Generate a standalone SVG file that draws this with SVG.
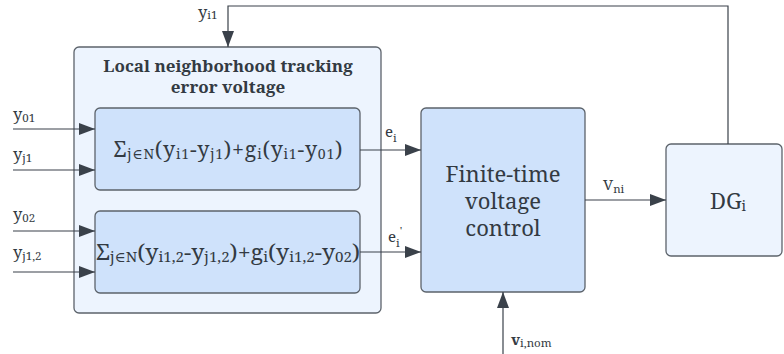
<svg xmlns="http://www.w3.org/2000/svg" width="784" height="354" viewBox="0 0 784 354">
  <defs>
    <marker id="arrowL" viewBox="0 0 16 12" refX="16" refY="6" markerWidth="16" markerHeight="12" markerUnits="userSpaceOnUse" orient="auto">
      <path d="M0,0 L16,6 L0,12 z" fill="#3a414a"/>
    </marker>
  </defs>
  <style>
    .outer { fill: #edf4fe; stroke: #5c636b; stroke-width: 1.3; }
    .inner { fill: #cfe2fb; stroke: #5c636b; stroke-width: 1.3; }
    .ctrl  { fill: #cfe2fb; stroke: #5c636b; stroke-width: 1.3; }
    .dg    { fill: #edf4fe; stroke: #5c636b; stroke-width: 1.3; }
    .wire  { fill: none; stroke: #3a414a; stroke-width: 1.2; }
    text { font-family: "Noto Serif", "DejaVu Serif", "Liberation Serif", serif; fill: #333a42; }
    .title { font-weight: bold; font-size: 17px; text-anchor: middle; }
    .formula { font-size: 21.5px; text-anchor: middle; }
    .big { font-size: 22px; text-anchor: middle; }
    .lbl { font-size: 16.5px; }
    .lbs { font-size: 15px; }
    .sub { font-size: 11.5px; }
    .fsub { font-size: 14px; }
  </style>

  <!-- tracking error block -->
  <g id="tracking-error">
    <rect class="outer" x="74" y="47" width="307" height="266" rx="5"/>
    <text class="title" x="228" y="72">Local neighborhood tracking<tspan x="228" dy="21">error voltage</tspan></text>
  </g>

  <g id="error-1">
    <rect class="inner" x="95" y="108" width="265" height="82" rx="5"/>
    <text class="formula" x="228" y="157" textLength="229" lengthAdjust="spacing">Σ<tspan class="fsub" dy="2">j∈N</tspan><tspan dy="-2">(y</tspan><tspan class="fsub" dy="2">i1</tspan><tspan dy="-2">-y</tspan><tspan class="fsub" dy="2">j1</tspan><tspan dy="-2">)+g</tspan><tspan class="fsub" dy="2">i</tspan><tspan dy="-2">(y</tspan><tspan class="fsub" dy="2">i1</tspan><tspan dy="-2">-y</tspan><tspan class="fsub" dy="2">01</tspan><tspan dy="-2">)</tspan></text>
  </g>

  <g id="error-2">
    <rect class="inner" x="95" y="211" width="265" height="82" rx="5"/>
    <text class="formula" x="228" y="260" textLength="264" lengthAdjust="spacingAndGlyphs">Σ<tspan class="fsub" dy="2">j∈N</tspan><tspan dy="-2">(y</tspan><tspan class="fsub" dy="2">i1,2</tspan><tspan dy="-2">-y</tspan><tspan class="fsub" dy="2">j1,2</tspan><tspan dy="-2">)+g</tspan><tspan class="fsub" dy="2">i</tspan><tspan dy="-2">(y</tspan><tspan class="fsub" dy="2">i1,2</tspan><tspan dy="-2">-y</tspan><tspan class="fsub" dy="2">02</tspan><tspan dy="-2">)</tspan></text>
  </g>

  <!-- controller -->
  <g id="finite-time-control">
    <rect class="ctrl" x="421" y="108" width="164" height="184" rx="5"/>
    <text class="big" x="503" y="182">Finite-time<tspan x="503" dy="27">voltage</tspan><tspan x="503" dy="27">control</tspan></text>
  </g>

  <!-- distributed generator -->
  <g id="dg">
    <rect class="dg" x="666" y="144" width="116" height="112" rx="5"/>
    <text class="big" x="728" y="209" font-size="21">DG<tspan font-size="14" dy="2">i</tspan></text>
  </g>

  <!-- connectors -->
  <g id="connectors">
    <line class="wire" x1="13" y1="129" x2="95" y2="129" marker-end="url(#arrowL)"/>
    <line class="wire" x1="13" y1="170" x2="95" y2="170" marker-end="url(#arrowL)"/>
    <line class="wire" x1="13" y1="231" x2="95" y2="231" marker-end="url(#arrowL)"/>
    <line class="wire" x1="13" y1="272" x2="95" y2="272" marker-end="url(#arrowL)"/>
    <line class="wire" x1="360" y1="150" x2="421" y2="150" marker-end="url(#arrowL)"/>
    <line class="wire" x1="360" y1="252" x2="421" y2="252" marker-end="url(#arrowL)"/>
    <line class="wire" x1="585" y1="200" x2="666" y2="200" marker-end="url(#arrowL)"/>
    <line class="wire" x1="503" y1="354" x2="503" y2="292" marker-end="url(#arrowL)"/>
    <polyline class="wire" points="728,144 728,6 228,6 228,47" marker-end="url(#arrowL)"/>
  </g>

  <!-- connector labels -->
  <g id="labels">
    <text class="lbl" x="198" y="18">y<tspan class="sub" dy="1">i1</tspan></text>
    <text class="lbl" x="13" y="120">y<tspan class="sub" dy="2">01</tspan></text>
    <text class="lbl" x="13" y="160">y<tspan class="sub" dy="2">j1</tspan></text>
    <text class="lbl" x="13" y="220">y<tspan class="sub" dy="2">02</tspan></text>
    <text class="lbl" x="13" y="258">y<tspan class="sub" dy="2">j1,2</tspan></text>
    <text class="lbs" x="385" y="137">e<tspan class="sub" dy="5">i</tspan></text>
    <text class="lbs" x="388" y="242">e<tspan class="sub" dy="5">i</tspan><tspan class="sub" dy="-12">'</tspan></text>
    <text class="lbs" x="603" y="190">V<tspan class="sub" dy="3">ni</tspan></text>
    <text class="lbs" x="511" y="345" font-weight="bold">v<tspan class="sub" dy="2" font-weight="normal">i,nom</tspan></text>
  </g>
</svg>
